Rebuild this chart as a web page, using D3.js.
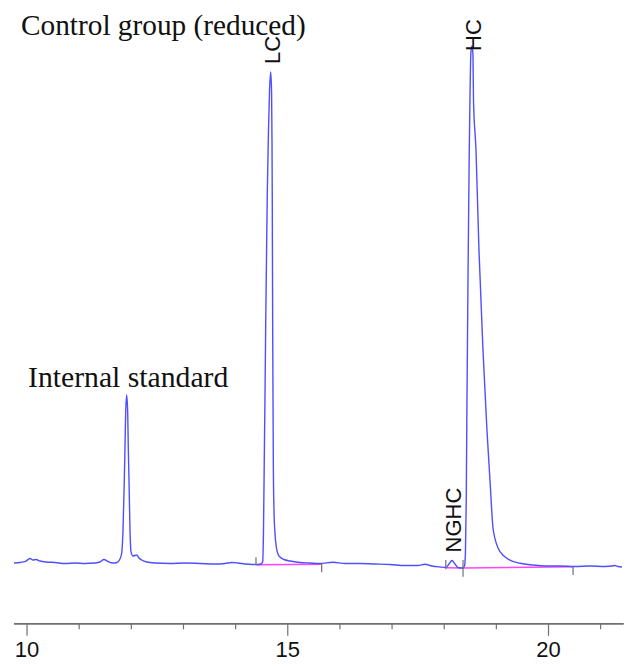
<!DOCTYPE html>
<html>
<head>
<meta charset="utf-8">
<script src="https://cdn.jsdelivr.net/npm/d3@7"></script>
<style>
  html, body { margin: 0; padding: 0; background: #ffffff; }
  svg { display: block; }
</style>
</head>
<body>
<svg id="chart" width="636" height="666"></svg>
<script>
// ---- Data (retention time in minutes, detector signal in arbitrary units) ----
const times = [
  9.760, 9.875, 9.990, 10.066, 10.124, 10.181, 10.258, 10.373, 10.546, 10.738, 10.929, 11.121, 11.313, 11.409, 11.485, 11.562, 11.658,
  11.735, 11.792, 11.825, 11.850, 11.875, 11.888, 11.901, 11.921, 11.940, 11.951, 11.965, 11.984, 12.003, 12.041, 12.112, 12.156, 12.208, 12.304,
  12.463, 12.751, 13.039, 13.326, 13.614, 13.805, 13.940, 14.055, 14.189, 14.323, 14.438, 14.496,
  14.528, 14.544, 14.559, 14.572, 14.586, 14.601, 14.617, 14.640, 14.659, 14.682, 14.699, 14.707, 14.712, 14.720, 14.732, 14.745, 14.764, 14.793, 14.822, 14.860, 14.937, 15.052, 15.244, 15.435, 15.627, 15.876, 16.107, 16.394, 16.682, 16.969, 17.257, 17.506, 17.641, 17.775, 17.928, 18.043,
  18.101, 18.158, 18.216, 18.273, 18.369,
  18.398, 18.417, 18.432, 18.446, 18.469, 18.488, 18.503, 18.522, 18.542, 18.561, 18.571, 18.619, 18.676, 18.753, 18.829, 18.887, 18.950, 19.079, 19.270, 19.462, 19.712, 19.942, 20.229, 20.517, 20.805, 21.092, 21.226, 21.284, 21.342, 21.418
];
const signal = [
  1.33, 1.43, 1.71, 2.19, 1.90, 2.00, 1.71, 1.52, 1.43, 1.24, 1.33, 1.24, 1.33, 1.52, 2.00, 1.62, 1.33,
  1.43, 2.10, 3.24, 7.62, 17.14, 23.49, 29.90, 33.33, 29.90, 23.49, 17.14, 7.62, 3.49, 2.67, 2.86, 2.29, 1.90, 1.52,
  1.33, 1.24, 1.33, 1.24, 1.14, 1.24, 1.43, 1.33, 1.14, 1.05, 1.05, 1.14,
  1.52, 7.62, 20.95, 32.38, 46.29, 59.05, 71.81, 83.81, 91.05, 94.86, 91.05, 81.90, 71.81, 46.29, 20.95, 11.43, 7.05, 4.19, 3.05, 2.48, 2.00, 1.71, 1.43, 1.33, 1.24, 1.47, 1.24, 1.24, 1.14, 1.05, 0.86, 0.86, 1.09, 0.76, 0.57, 0.48,
  1.14, 1.81, 1.14, 0.48, 0.38,
  0.76, 3.43, 13.33, 32.38, 59.05, 78.10, 89.52, 98.67, 99.81, 98.10, 89.52, 80.00, 60.95, 41.90, 26.67, 17.14, 7.62, 3.49, 1.90, 1.28, 0.95, 0.76, 0.76, 0.67, 0.76, 0.67, 0.76, 0.86, 0.67, 0.57
];
// integration baselines: [tStart, tEnd, sStart, sEnd]
const baselines = [
  [14.40, 15.66, 1.00, 1.08],
  [18.04, 18.37, 0.42, 0.38],
  [18.37, 20.48, 0.38, 0.61]
];
// integration event markers: [t, sTop, sBottom]
const markers = [
  [14.40, 2.42, 0.95],
  [15.66, 1.33, -0.44],
  [18.04, 1.90, 0.13],
  [18.37, 1.90, -1.27],
  [20.48, 0.63, -0.95]
];
const peakNames = ["LC", "NGHC", "HC"];
const peakTimes = [14.682, 18.158, 18.542];
const majorTicks = [10, 15, 20];
const minorTicks = [11, 12, 13, 14, 16, 17, 18, 19, 21];
const titleText = "Control group (reduced)";
const standardText = "Internal standard";

// ---- Drawing ----
const svg = d3.select("#chart");
const x = d3.scaleLinear().domain([9.75, 21.44]).range([13.5, 623.1]);
const y = d3.scaleLinear().domain([0, 100]).range([570, 45]);

const pts = times.map((t, i) => [t, signal[i]]);

// baselines (magenta)
svg.append("g").selectAll("line").data(baselines).join("line")
  .attr("x1", d => x(d[0])).attr("x2", d => x(d[1]))
  .attr("y1", d => y(d[2])).attr("y2", d => y(d[3]))
  .attr("stroke", "#ff44ff").attr("stroke-width", 1.5);

// trace
svg.append("path")
  .datum(pts)
  .attr("fill", "none")
  .attr("stroke", "#4f4fff")
  .attr("stroke-width", 1.4)
  .attr("stroke-linejoin", "round")
  .attr("d", d3.line().x(d => x(d[0])).y(d => y(d[1])).curve(d3.curveMonotoneX));

// markers
svg.append("g").selectAll("line").data(markers).join("line")
  .attr("x1", d => x(d[0])).attr("x2", d => x(d[0]))
  .attr("y1", d => y(d[1])).attr("y2", d => y(d[2]))
  .attr("stroke", "#707070").attr("stroke-width", 1.2);

// axis
const axisY = 623.3;
const gMinor = svg.append("g").attr("transform", `translate(0,${axisY})`)
  .call(d3.axisBottom(x).tickValues(minorTicks).tickSize(6).tickSizeOuter(0).tickFormat(""));
const gMajor = svg.append("g").attr("transform", `translate(0,${axisY})`)
  .call(d3.axisBottom(x).tickValues(majorTicks).tickSize(12.5).tickSizeOuter(0).tickFormat(d3.format("d")).tickPadding(6));
[gMinor, gMajor].forEach(g => {
  g.selectAll("path.domain").attr("stroke", "#707070").attr("stroke-width", 1.4);
  g.selectAll(".tick line").attr("stroke", "#707070").attr("stroke-width", 1.2);
});
gMajor.selectAll(".tick text")
  .attr("font-family", "'Liberation Sans', Arial, sans-serif")
  .attr("font-size", 22)
  .attr("fill", "#111")
  .attr("dy", "0.71em");

// titles (serif)
svg.append("text").attr("x", 21).attr("y", 35)
  .attr("font-family", "'Liberation Serif', 'Times New Roman', serif")
  .attr("font-size", 29.3).attr("fill", "#111").text(titleText);
svg.append("text").attr("x", 28).attr("y", 387)
  .attr("font-family", "'Liberation Serif', 'Times New Roman', serif")
  .attr("font-size", 29.7).attr("fill", "#111").text(standardText);

// rotated peak labels
const labelY = { "LC": 64, "NGHC": 552.5, "HC": 51 };
svg.append("g").selectAll("text").data(peakNames).join("text")
  .attr("transform", (d, i) => `translate(${x(peakTimes[i]) + 9.5},${labelY[d]}) rotate(-90)`)
  .attr("font-family", "'Liberation Sans', Arial, sans-serif")
  .attr("font-size", 22).attr("fill", "#111")
  .text(d => d);
</script>
</body>
</html>
